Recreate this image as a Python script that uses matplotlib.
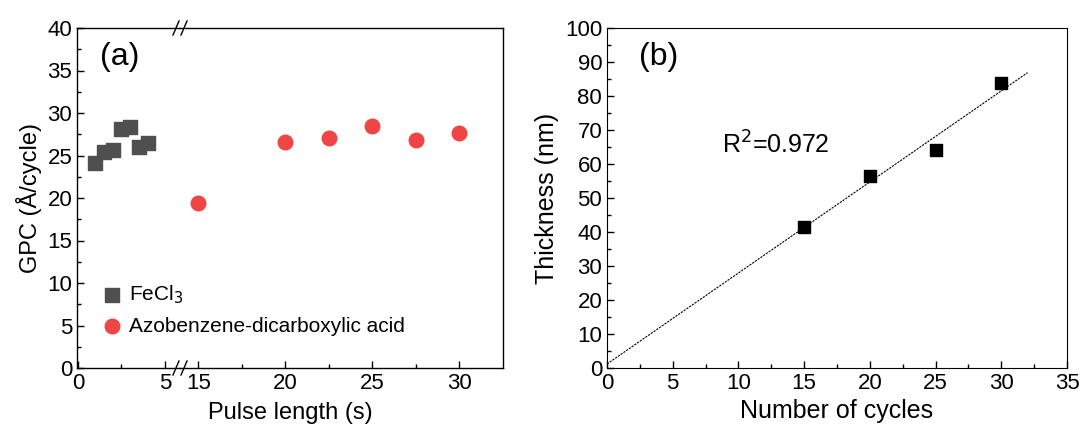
import matplotlib
matplotlib.use("Agg")
import matplotlib.pyplot as plt
import numpy as np
from matplotlib.ticker import MultipleLocator, FixedLocator

plt.rcParams['font.family'] = ['Liberation Sans', 'DejaVu Sans']
plt.rcParams['font.size'] = 16

# panel (a) data
fe_x = [1.0, 1.5, 2.0, 2.5, 3.0, 3.5, 4.0]
fe_y = [24.1, 25.4, 25.7, 28.1, 28.3, 26.0, 26.5]
azo_x = [15, 20, 22.5, 25, 27.5, 30]
azo_y = [19.4, 26.6, 27.1, 28.5, 26.8, 27.7]

# panel (b) data
cyc = [15, 20, 25, 30]
thick = [41.6, 56.4, 64.0, 83.7]
r2_label = "R$^2$=0.972"

gray = '#4f4f4f'
red = '#f04545'

fig = plt.figure(figsize=(10.87, 4.32), dpi=100)

W, H = 1087.0, 432.0
bot, top = 1 - 368 / H, 1 - 28 / H
xa0, xbrk, xa1 = 77 / W, 180 / W, 503 / W
ax1 = fig.add_axes([xa0, bot, xbrk - xa0, top - bot])
ax2 = fig.add_axes([xbrk, bot, xa1 - xbrk, top - bot])
ax1.set_zorder(3)
ax1.patch.set_visible(False)

ax1.set_xlim(-0.05, 5.86)
ax2.set_xlim(13.94, 32.5)
for ax in (ax1, ax2):
    ax.set_ylim(0, 40)
    ax.tick_params(direction='in', which='both', top=False, right=False, length=5, width=1)
    ax.tick_params(which='minor', length=3)
    for s in ax.spines.values():
        s.set_linewidth(1)

ax1.spines['right'].set_visible(False)
ax2.spines['left'].set_visible(False)
ax2.tick_params(axis='y', which='both', left=False, labelleft=False)

ax1.xaxis.set_major_locator(FixedLocator([0, 5]))
ax1.xaxis.set_minor_locator(FixedLocator([2.5]))
ax2.xaxis.set_major_locator(FixedLocator([15, 20, 25, 30]))
ax2.xaxis.set_minor_locator(FixedLocator([17.5, 22.5, 27.5]))
ax1.yaxis.set_major_locator(MultipleLocator(5))
ax1.yaxis.set_minor_locator(MultipleLocator(2.5))

ax1.scatter(fe_x, fe_y, marker='s', s=110, color=gray, label='FeCl$_3$', zorder=3)
ax2.scatter(azo_x, azo_y, marker='o', s=110, color=red, zorder=3)
ax1.scatter([], [], marker='o', s=110, color=red, label='Azobenzene-dicarboxylic acid')

ax1.set_ylabel('GPC (Å/cycle)', fontsize=17)
fig.text((xa0 + xa1) / 2, 0.03, 'Pulse length (s)', ha='center', fontsize=17)
ax1.text(0.22, 0.915, '(a)', transform=ax1.transAxes, fontsize=23, va='center')
ax1.legend(loc='lower left', bbox_to_anchor=(0.14, 0.07), frameon=False, fontsize=15,
           handlelength=1.2, handletextpad=0.2, labelspacing=0.5, borderaxespad=0)

# break marks
for yb in (bot, top):
    for dx in (-4, 4):
        xc = xbrk + dx / W
        fig.add_artist(plt.Line2D([xc - 3 / W, xc + 3 / W], [yb - 7 / H, yb + 7 / H],
                                  color='black', lw=1))

# panel (b)
bx0, bx1 = 607 / W, 1067 / W
axb = fig.add_axes([bx0, bot, bx1 - bx0, top - bot])
axb.set_xlim(0, 35)
axb.set_ylim(0, 100)
axb.xaxis.set_major_locator(MultipleLocator(5))
axb.xaxis.set_minor_locator(MultipleLocator(2.5))
axb.yaxis.set_major_locator(MultipleLocator(10))
axb.yaxis.set_minor_locator(MultipleLocator(5))
axb.tick_params(direction='in', which='both', top=False, right=False, length=5, width=1)
axb.tick_params(which='minor', length=3)

k, b = np.polyfit(cyc, thick, 1)
xf = np.array([0, 32])
axb.plot(xf, k * xf + b, color='black', lw=0.8, linestyle=(0, (2, 1)))
axb.scatter(cyc, thick, marker='s', s=70, color='black', zorder=3)
axb.text(0.25, 0.63, r2_label, transform=axb.transAxes, fontsize=18)
axb.text(0.07, 0.915, '(b)', transform=axb.transAxes, fontsize=23, va='center')
axb.set_xlabel('Number of cycles', fontsize=18)
axb.set_ylabel('Thickness (nm)', fontsize=18)

fig.savefig('out.png', dpi=100)
